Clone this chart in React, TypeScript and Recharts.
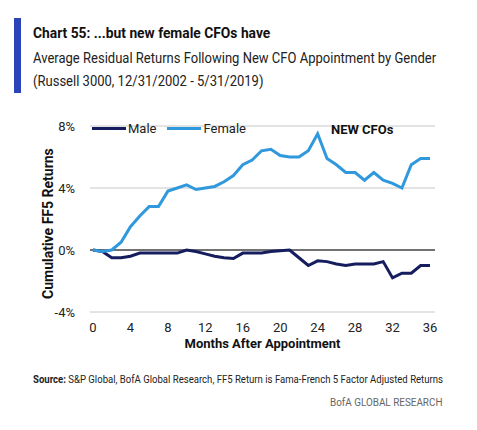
import { LineChart, Line, XAxis, YAxis, CartesianGrid, ReferenceLine, Legend } from 'recharts';

const months = [0, 1, 2, 3, 4, 5, 6, 7, 8, 9, 10, 11, 12, 13, 14, 15, 16, 17, 18, 19, 20, 21, 22, 23, 24, 25, 26, 27, 28, 29, 30, 31, 32, 33, 34, 35, 36];
const female = [0, -0.1, 0, 0.5, 1.5, 2.2, 2.8, 2.8, 3.8, 4.0, 4.2, 3.9, 4.0, 4.1, 4.4, 4.8, 5.5, 5.8, 6.4, 6.5, 6.1, 6.0, 6.0, 6.4, 7.5, 5.9, 5.5, 5.0, 5.0, 4.5, 5.0, 4.5, 4.3, 4.0, 5.5, 5.9, 5.9];
const male = [0, -0.1, -0.5, -0.5, -0.4, -0.2, -0.2, -0.2, -0.2, -0.2, 0, -0.1, -0.25, -0.4, -0.5, -0.55, -0.2, -0.2, -0.2, -0.1, -0.05, 0, -0.5, -1.0, -0.7, -0.75, -0.9, -1.0, -0.9, -0.9, -0.9, -0.75, -1.8, -1.5, -1.5, -1.0, -1.0];
const xTicks = [0, 4, 8, 12, 16, 20, 24, 28, 32, 36];
const yTicks = [-4, 0, 4, 8];

const FEMALE = '#3098dc';
const MALE = '#161d5e';
const FONT = 'Roboto, "Noto Sans", sans-serif';

const data = months.map((m, i) => ({ m, female: female[i], male: male[i] }));

// narrow the text a bit, the original uses a condensed face
const squeeze = (s: number) => ({ transform: `scaleX(${s})`, transformOrigin: 'left top', whiteSpace: 'nowrap' as const });

function LegendBox() {
  const item = (color: string, label: string) => (
    <div style={{ display: 'flex', alignItems: 'center', marginRight: 11 }}>
      <div style={{ width: 34, height: 3, background: color, marginRight: 2 }} />
      <span style={{ fontSize: 13, color: '#222' }}>{label}</span>
    </div>
  );
  return (
    <div style={{ display: 'flex', fontFamily: FONT }}>
      {item(MALE, 'Male')}
      {item(FEMALE, 'Female')}
    </div>
  );
}

export default function App() {
  return (
    <div style={{ position: 'absolute', left: 0, top: 0, width: 477, height: 430, background: '#fff', fontFamily: FONT }}>
      <div style={{ position: 'absolute', left: 14, top: 18, width: 7, height: 75, background: '#2b45b8' }} />
      <div style={{ position: 'absolute', left: 33, top: 24, fontSize: 15, fontWeight: 700, color: '#111', ...squeeze(0.92) }}>
        Chart 55: ...but new female CFOs have
      </div>
      <div style={{ position: 'absolute', left: 33, top: 47, fontSize: 14, color: '#222', lineHeight: '23px', ...squeeze(0.93) }}>
        Average Residual Returns Following New CFO Appointment by Gender
        <br />
        (Russell 3000, 12/31/2002 - 5/31/2019)
      </div>

      <div style={{ position: 'absolute', left: 0, top: 0 }}>
        <LineChart width={477} height={360} data={data} margin={{ top: 126, right: 42, left: 60, bottom: 18 }}>
          <CartesianGrid vertical={false} stroke="#c8c8c8" />
          <XAxis
            dataKey="m"
            type="number"
            domain={[0, 36]}
            ticks={xTicks}
            padding={{ left: 3, right: 5 }}
            axisLine={false}
            tickLine={false}
            tickSize={0}
            tickMargin={11}
            height={30}
            tick={{ fontSize: 13, fill: '#222', fontFamily: FONT }}
            label={{ value: 'Months After Appointment', position: 'insideBottom', offset: -6, style: { fontSize: 13, fontWeight: 700, fill: '#111', fontFamily: FONT } }}
          />
          <YAxis
            type="number"
            domain={[-4, 8]}
            ticks={yTicks}
            width={30}
            axisLine={false}
            tickLine={false}
            tickSize={0}
            tickMargin={15}
            tickFormatter={(v: number) => `${v}%`}
            tick={{ fontSize: 13, fill: '#222', fontFamily: FONT }}
            label={{ value: 'Cumulative FF5 Returns', angle: -90, position: 'insideLeft', offset: -12, dy: 80, style: { fontSize: 14, fontWeight: 700, fill: '#111', fontFamily: FONT } }}
          />
          <ReferenceLine y={0} stroke="#000" strokeWidth={1} />
          <Legend verticalAlign="middle" align="center" content={<LegendBox />} wrapperStyle={{ top: 121, left: 92, width: 'auto' }} />
          <Line dataKey="male" stroke={MALE} strokeWidth={3} dot={false} isAnimationActive={false} />
          <Line dataKey="female" stroke={FEMALE} strokeWidth={3} dot={false} isAnimationActive={false} />
        </LineChart>
      </div>

      <div style={{ position: 'absolute', left: 331, top: 122, fontSize: 13, fontWeight: 700, color: '#111' }}>
        NEW CFOs
      </div>
      <div style={{ position: 'absolute', left: 33, top: 373, fontSize: 11, color: '#222', ...squeeze(0.87) }}>
        <b>Source:</b> S&amp;P Global, BofA Global Research, FF5 Return is Fama-French 5 Factor Adjusted Returns
      </div>
      <div style={{ position: 'absolute', left: 330, top: 396, fontSize: 11, color: '#666', ...squeeze(0.9) }}>
        BofA GLOBAL RESEARCH
      </div>
    </div>
  );
}
